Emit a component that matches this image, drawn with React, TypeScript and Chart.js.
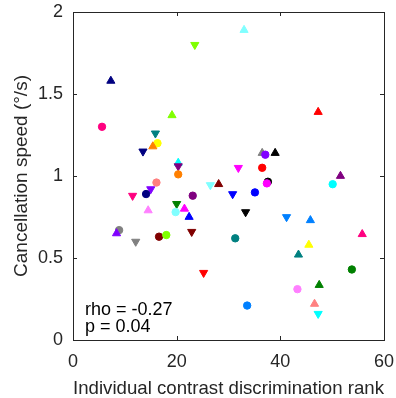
import React, { useEffect, useRef } from "react";
import { Chart, registerables } from "chart.js";

Chart.register(...registerables);

// Individual contrast discrimination rank (x) and cancellation speed (y, °/s)
const ranks = [
  5.6, 7.3, 23.5, 19.1, 15.9, 16.3, 15.4, 13.5, 20.3, 20.3, 20.3, 33.0, 47.3, 36.5,
  37.1, 39.0, 31.9, 36.5, 51.6, 16.1, 15.0, 11.5, 14.1, 26.5, 28.1, 23.1, 20.0, 19.8,
  21.5, 22.4, 14.5, 8.9, 8.4, 12.1, 16.6, 18.0, 22.9, 25.2, 30.8, 35.1, 37.6, 37.4,
  33.3, 41.2, 45.8, 50.1, 55.8, 31.3, 45.5, 43.5, 53.8, 43.3, 47.5, 46.6, 47.3, 33.6,
];
const speeds = [
  1.30, 1.58, 1.80, 1.37, 1.26, 1.20, 1.18, 1.15, 1.08, 1.06, 1.01, 1.89, 1.39, 1.14,
  1.13, 1.14, 1.05, 1.05, 1.00, 0.96, 0.92, 0.88, 0.89, 0.945, 0.95, 0.88, 0.83, 0.78,
  0.80, 0.75, 0.79, 0.67, 0.65, 0.60, 0.63, 0.64, 0.66, 0.41, 0.89, 0.90, 0.965, 0.955,
  0.78, 0.75, 0.73, 0.95, 0.645, 0.62, 0.58, 0.52, 0.43, 0.31, 0.335, 0.22, 0.16, 0.21,
];
// o = circle, ^ = triangle up, v = triangle down
const markers = [
  "o", "^", "v", "^", "v", "o", "^", "v", "^", "v", "o", "^", "^", "^",
  "o", "^", "v", "o", "^", "o", "v", "v", "o", "v", "^", "o", "v", "o",
  "^", "^", "^", "o", "^", "v", "o", "o", "v", "v", "v", "o", "o", "o",
  "v", "v", "^", "o", "^", "o", "^", "^", "o", "o", "^", "^", "v", "o",
];
const colors = [
  "#FF0080", "#000080", "#80FF00", "#80FF00", "#008080", "#FFFF00", "#FF8000", "#000080",
  "#00FFFF", "#800080", "#FF8000", "#80FFFF", "#FF0000", "#808080", "#8000FF", "#000000",
  "#FF00FF", "#FF0000", "#800080", "#FF8080", "#8000FF", "#FF0080", "#000080", "#80FFFF",
  "#800000", "#800080", "#008000", "#80FFFF", "#FF00FF", "#0000FF", "#FF80FF", "#808080",
  "#8000FF", "#808080", "#800000", "#80FF00", "#800000", "#FF0000", "#0000FF", "#0000FF",
  "#000000", "#FF00FF", "#000000", "#0080FF", "#0080FF", "#00FFFF", "#FF0080", "#008080",
  "#FFFF00", "#008080", "#008000", "#FF80FF", "#008000", "#FF8080", "#00FFFF", "#0080FF",
];
const xTicks = [0, 20, 40, 60];
const yTicks = [0, 0.5, 1, 1.5, 2];
const statLines = ["rho = -0.27", "p = 0.04"];
const xTitle = "Individual contrast discrimination rank";
const yTitle = "Cancellation speed (°/s)";

const AXIS_COLOR = "#262626";
const FONT = '"Liberation Sans", Arial, Helvetica, sans-serif';

const boxPlugin = {
  id: "matlabBox",
  afterDatasetsDraw(chart: any) {
    const { ctx, chartArea, scales } = chart;
    const { left, right, top, bottom } = chartArea;
    ctx.save();
    ctx.strokeStyle = AXIS_COLOR;
    ctx.lineWidth = 1;
    ctx.strokeRect(Math.round(left) + 0.5, Math.round(top) + 0.5, Math.round(right - left), Math.round(bottom - top));
    const tl = 4;
    ctx.beginPath();
    xTicks.forEach((v) => {
      const px = Math.round(scales.x.getPixelForValue(v)) + 0.5;
      ctx.moveTo(px, bottom);
      ctx.lineTo(px, bottom - tl);
      ctx.moveTo(px, top);
      ctx.lineTo(px, top + tl);
    });
    yTicks.forEach((v) => {
      const py = Math.round(scales.y.getPixelForValue(v)) + 0.5;
      ctx.moveTo(left, py);
      ctx.lineTo(left + tl, py);
      ctx.moveTo(right, py);
      ctx.lineTo(right - tl, py);
    });
    ctx.stroke();
    ctx.fillStyle = "#000000";
    ctx.font = `18px ${FONT}`;
    ctx.textBaseline = "alphabetic";
    ctx.textAlign = "left";
    ctx.fillText(statLines[0], left + 12, bottom - 25);
    ctx.fillText(statLines[1], left + 12, bottom - 8.5);
    ctx.restore();
  },
};

export default function App() {
  const ref = useRef<HTMLCanvasElement | null>(null);
  useEffect(() => {
    if (!ref.current) return;
    Chart.defaults.font.family = FONT;
    const data = ranks.map((x, i) => ({ x, y: speeds[i] }));
    const chart = new Chart(ref.current, {
      type: "scatter",
      data: {
        datasets: [
          {
            data,
            pointStyle: markers.map((m) => (m === "o" ? "circle" : "triangle")) as any,
            pointRotation: markers.map((m) => (m === "v" ? 180 : 0)),
            pointRadius: markers.map((m) => (m === "o" ? 3.7 : 4.7)),
            pointBackgroundColor: colors,
            pointBorderColor: colors,
            pointBorderWidth: 1,
            showLine: false,
          },
        ],
      },
      options: {
        responsive: false,
        animation: false,
        events: [],
        layout: { padding: { top: 12, right: 12, left: 0, bottom: 0 } },
        plugins: { legend: { display: false }, tooltip: { enabled: false } },
        scales: {
          x: {
            type: "linear",
            min: 0,
            max: 60,
            afterBuildTicks: (s: any) => {
              s.ticks = xTicks.map((v) => ({ value: v }));
            },
            ticks: {
              color: AXIS_COLOR,
              font: { size: 18 },
              padding: 11,
              maxRotation: 0,
              callback: (v: any) => String(v),
            },
            grid: { display: false, drawTicks: false },
            border: { display: false },
            title: {
              display: true,
              text: xTitle,
              color: AXIS_COLOR,
              font: { size: 19 },
              padding: { top: 0, bottom: -2 },
            },
            afterFit: (s: any) => {
              s.height = 58;
              s.paddingLeft = 0;
              s.paddingRight = 0;
            },
          },
          y: {
            type: "linear",
            min: 0,
            max: 2,
            afterBuildTicks: (s: any) => {
              s.ticks = yTicks.map((v) => ({ value: v }));
            },
            ticks: {
              color: AXIS_COLOR,
              font: { size: 18 },
              padding: 10,
              callback: (v: any) => String(v),
            },
            grid: { display: false, drawTicks: false },
            border: { display: false },
            title: {
              display: true,
              text: yTitle,
              color: AXIS_COLOR,
              font: { size: 19 },
              padding: { top: 10, bottom: 0 },
            },
            afterFit: (s: any) => {
              s.width = 73;
              s.paddingTop = 0;
              s.paddingBottom = 0;
            },
          },
        },
      },
      plugins: [boxPlugin],
    });
    return () => chart.destroy();
  }, []);
  return (
    <div style={{ position: "fixed", left: 0, top: 0, width: 396, height: 398, background: "#fff" }}>
      <canvas ref={ref} width={396} height={398} style={{ display: "block", width: 396, height: 398 }} />
    </div>
  );
}
